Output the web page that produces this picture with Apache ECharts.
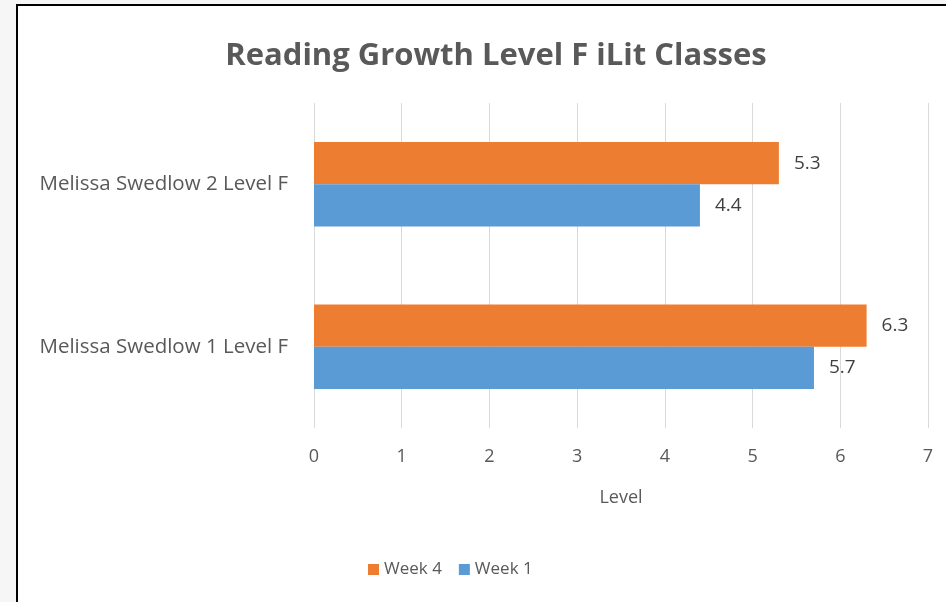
<!DOCTYPE html>
<html><head><meta charset="utf-8">
<script src="https://cdn.jsdelivr.net/npm/echarts@6/dist/echarts.min.js"></script>
<style>html,body{margin:0;padding:0;background:#f6f6f6;}#c{width:946px;height:602px;}</style>
</head><body><div id="c"></div>
<script>
const categories = ['Melissa Swedlow 1 Level F', 'Melissa Swedlow 2 Level F'];
const week1 = [5.7, 4.4];
const week4 = [6.3, 5.3];
const xTicks = [0, 1, 2, 3, 4, 5, 6, 7];
const font = 'Open Sans, sans-serif';
const chart = echarts.init(document.getElementById('c'));
chart.setOption({
  backgroundColor: '#f6f6f6',
  animation: false,
  graphic: [{type: 'rect', z: -10, shape: {x: 17, y: 5, width: 940, height: 610}, style: {fill: '#fff', stroke: '#000', lineWidth: 2}}],
  title: {text: 'Reading Growth Level F iLit Classes', left: 491, top: 36, textAlign: 'center',
    textStyle: {fontFamily: font, fontWeight: 'bold', fontSize: 31, color: '#595959'}},
  legend: {data: ['Week 4', 'Week 1'], top: 556, left: 363, itemWidth: 11, itemHeight: 11, itemGap: 17,
    textStyle: {fontFamily: font, fontSize: 17, color: '#595959'}, icon: 'rect'},
  grid: {left: 314, right: 18, top: 103, bottom: 174, containLabel: false},
  xAxis: {type: 'value', min: 0, max: 7, interval: 1, name: 'Level', nameLocation: 'middle', nameGap: 61,
    nameTextStyle: {fontFamily: font, fontSize: 18, color: '#595959'},
    axisLabel: {fontFamily: font, fontSize: 18, color: '#595959', margin: 20,
      formatter: v => xTicks.includes(v) ? String(v) : ''},
    axisLine: {show: false}, axisTick: {show: false},
    splitLine: {lineStyle: {color: '#d9d9d9', width: 1}}},
  yAxis: {type: 'category', data: categories, axisLine: {show: false}, axisTick: {show: false},
    axisLabel: {fontFamily: font, fontSize: 20.5, color: '#595959', margin: 26}},
  series: [
    {name: 'Week 4', type: 'bar', data: week4, barGap: '0%', barCategoryGap: '48%', itemStyle: {color: '#ED7D31'},
      label: {show: true, position: 'right', distance: 15, fontFamily: font, fontSize: 19, color: '#404040'}},
    {name: 'Week 1', type: 'bar', data: week1, barGap: '0%', barCategoryGap: '48%', itemStyle: {color: '#5B9BD5'},
      label: {show: true, position: 'right', distance: 15, fontFamily: font, fontSize: 19, color: '#404040'}}
  ]
});
</script></body></html>
